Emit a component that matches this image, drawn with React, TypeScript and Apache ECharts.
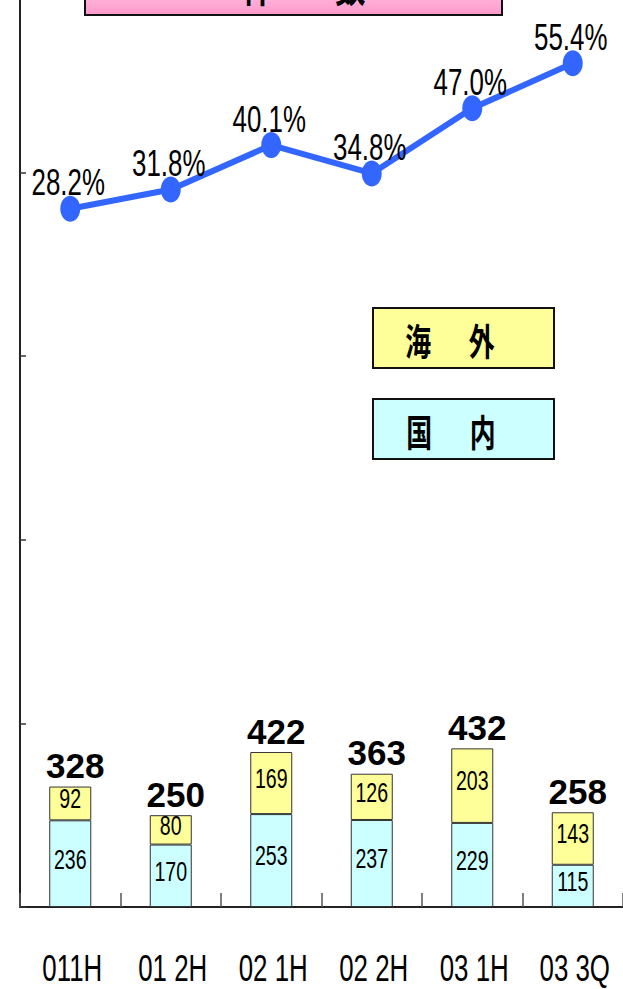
import React, { useEffect, useRef } from "react";
import * as echarts from "echarts";

// ---- data ----
const categories = ["011H", "01 2H", "02 1H", "02 2H", "03 1H", "03 3Q"];
const domestic = [236, 170, 253, 237, 229, 115];
const overseas = [92, 80, 169, 126, 203, 143];
const overseasRatio = [28.2, 31.8, 40.1, 34.8, 47.0, 55.4];
const seriesNames = ["国内", "海外", "海外比率"];
const legendLabels = ["海　  外", "国　  内"];
const titleText = "件　　数";
const yMin = 0;
const yMax = 2500;
const yInterval = 500;
const ratioMin = -102.4;
const ratioMax = 69.3;

const REG = "'Liberation Sans', Arial, sans-serif";
const CJK = "'Noto Sans CJK JP', 'Noto Sans CJK SC', sans-serif";
const SQ = 0.7;

export default function App() {
  const ref = useRef<HTMLDivElement>(null);

  useEffect(() => {
    if (!ref.current) return;
    const chart = echarts.init(ref.current, null, { renderer: "svg" });
    const totals = domestic.map((d, i) => d + overseas[i]);

    const option: any = {
      animation: false,
      backgroundColor: "#ffffff",
      grid: {
        left: 20,
        right: 0,
        top: -11,
        bottom: 82,
        containLabel: false,
        outerBoundsMode: "none",
      },
      xAxis: {
        type: "category",
        data: categories,
        boundaryGap: true,
        axisLine: { show: true, lineStyle: { color: "#222", width: 2 } },
        axisTick: {
          show: true,
          inside: true,
          length: 14,
          interval: 0,
          lineStyle: { color: "#555", width: 1.5 },
        },
        axisLabel: { show: false },
        splitLine: { show: false },
      },
      yAxis: [
        {
          type: "value",
          min: yMin,
          max: yMax,
          interval: yInterval,
          axisLine: { show: true, lineStyle: { color: "#222", width: 2 } },
          axisTick: { show: true, inside: true, length: 6, lineStyle: { color: "#333", width: 1.5 } },
          axisLabel: { show: false },
          splitLine: { show: false },
        },
        {
          type: "value",
          min: ratioMin,
          max: ratioMax,
          show: false,
          splitLine: { show: false },
        },
      ],
      series: [
        {
          name: seriesNames[0],
          type: "bar",
          stack: "total",
          barWidth: 42,
          data: domestic,
          itemStyle: { color: "#CCFFFF", borderColor: "#333", borderWidth: 1 },
          z: 2,
        },
        {
          name: seriesNames[1],
          type: "bar",
          stack: "total",
          barWidth: 42,
          data: overseas,
          itemStyle: { color: "#FFFF99", borderColor: "#333", borderWidth: 1 },
          z: 2,
        },
        {
          name: seriesNames[2],
          type: "line",
          yAxisIndex: 1,
          data: overseasRatio,
          symbol: "circle",
          symbolSize: [20, 26],
          lineStyle: { color: "#3366FF", width: 6 },
          itemStyle: { color: "#3366FF" },
          z: 5,
        },
        {
          name: "barLabels",
          type: "custom",
          xAxisIndex: 0,
          yAxisIndex: 0,
          clip: false,
          silent: true,
          z: 10,
          encode: { x: 0, y: 3 },
          data: categories.map((_, i) => [i, domestic[i], overseas[i], totals[i]]),
          renderItem: (params: any, api: any) => {
            const i = api.value(0);
            const d = api.value(1);
            const o = api.value(2);
            const t = api.value(3);
            const pD = api.coord([i, d / 2]);
            const pO = api.coord([i, d + o / 2]);
            const pT = api.coord([i, t]);
            return {
              type: "group",
              children: [
                {
                  type: "text",
                  x: pD[0],
                  y: pD[1] - 5,
                  scaleX: SQ,
                  style: { text: String(d), fill: "#000", fontSize: 28, fontFamily: REG, align: "center", verticalAlign: "middle" },
                },
                {
                  type: "text",
                  x: pO[0],
                  y: pO[1] - 5,
                  scaleX: SQ,
                  style: { text: String(o), fill: "#000", fontSize: 28, fontFamily: REG, align: "center", verticalAlign: "middle" },
                },
                {
                  type: "text",
                  x: pT[0] + 5,
                  y: pT[1] - 21,
                  style: { text: String(t), fill: "#000", fontSize: 35, fontWeight: "bold", fontFamily: REG, align: "center", verticalAlign: "middle" },
                },
              ],
            };
          },
        },
        {
          name: "ratioLabels",
          type: "custom",
          xAxisIndex: 0,
          yAxisIndex: 1,
          clip: false,
          silent: true,
          z: 10,
          encode: { x: 0, y: 1 },
          data: overseasRatio.map((v, i) => [i, v]),
          renderItem: (params: any, api: any) => {
            const i = api.value(0);
            const v = api.value(1);
            const p = api.coord([i, v]);
            return {
              type: "text",
              x: p[0] - 2,
              y: p[1] - 26,
              scaleX: SQ,
              style: { text: v.toFixed(1) + "%", fill: "#000", fontSize: 37, fontFamily: REG, align: "center", verticalAlign: "middle" },
            };
          },
        },
        {
          name: "categoryLabels",
          type: "custom",
          xAxisIndex: 0,
          yAxisIndex: 0,
          clip: false,
          silent: true,
          z: 10,
          encode: { x: 0, y: 1 },
          data: categories.map((_, i) => [i, 0]),
          renderItem: (params: any, api: any) => {
            const i = api.value(0);
            const p = api.coord([i, 0]);
            return {
              type: "text",
              x: p[0] + 2,
              y: p[1] + 61,
              scaleX: SQ,
              style: { text: categories[params.dataIndex], fill: "#000", fontSize: 37, fontFamily: REG, align: "center", verticalAlign: "middle" },
            };
          },
        },
      ],
      graphic: [
        {
          type: "group",
          children: [
            {
              type: "rect",
              shape: { x: 85, y: -45, width: 417, height: 60 },
              style: {
                fill: {
                  type: "linear",
                  x: 0,
                  y: 0,
                  x2: 0,
                  y2: 1,
                  colorStops: [
                    { offset: 0, color: "#FFF0F8" },
                    { offset: 1, color: "#FF99CC" },
                  ],
                },
                stroke: "#111",
                lineWidth: 2,
              },
            },
            {
              type: "text",
              x: 304,
              y: -17,
              scaleX: SQ,
              style: { text: titleText, fill: "#000", fontSize: 44, fontWeight: "bold", fontFamily: CJK, align: "center", verticalAlign: "middle" },
            },
          ],
        },
        {
          type: "group",
          children: [
            {
              type: "rect",
              shape: { x: 373, y: 308, width: 181, height: 60 },
              style: { fill: "#FFFF99", stroke: "#111", lineWidth: 2 },
            },
            {
              type: "text",
              x: 450,
              y: 340,
              scaleX: SQ,
              style: { text: legendLabels[0], fill: "#000", fontSize: 37, fontWeight: "bold", fontFamily: CJK, align: "center", verticalAlign: "middle" },
            },
            {
              type: "rect",
              shape: { x: 373, y: 399, width: 181, height: 60 },
              style: { fill: "#CCFFFF", stroke: "#111", lineWidth: 2 },
            },
            {
              type: "text",
              x: 451,
              y: 431,
              scaleX: SQ,
              style: { text: legendLabels[1], fill: "#000", fontSize: 37, fontWeight: "bold", fontFamily: CJK, align: "center", verticalAlign: "middle" },
            },
          ],
        },
      ],
    };

    chart.setOption(option);
    return () => chart.dispose();
  }, []);

  return (
    <div
      ref={ref}
      style={{ position: "fixed", left: 0, top: 0, width: 623, height: 989, background: "#fff" }}
    />
  );
}
